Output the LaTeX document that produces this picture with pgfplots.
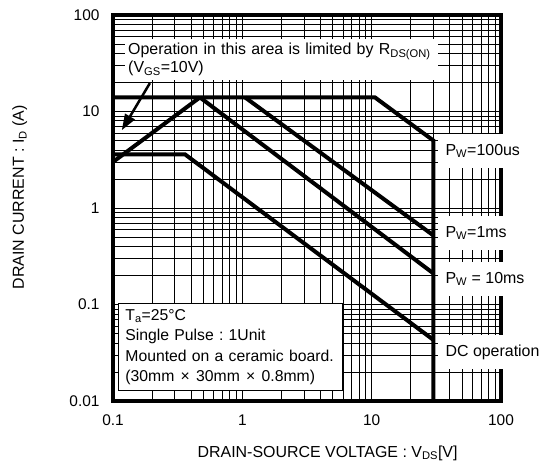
\documentclass[border=0pt]{standalone}
\usepackage{fontspec}
\setmainfont{Liberation Sans}
\usepackage{pgfplots}
\pgfplotsset{compat=1.18}
\usetikzlibrary{arrows.meta}
\frenchspacing
\newcommand\f{\fontsize{16}{18}\selectfont}
\newcommand\ft{\fontsize{15.5}{18}\selectfont}
\begin{document}
\frenchspacing
\begin{tikzpicture}[x=1bp,y=1bp]
\begin{axis}[
  at={(0,0)}, anchor=south west,
  scale only axis, width=388bp, height=386bp,
  xmode=log, ymode=log,
  xmin=0.1, xmax=100, ymin=0.01, ymax=100,
  xtick={0.1,1,10,100}, xticklabels={0.1,1,10,100},
  ytick={0.01,0.1,1,10,100}, yticklabels={0.01,0.1,1,10,100},
  /pgf/number format/assume math mode=true,
  grid=both,
  major grid style={black, line width=0.7bp},
  minor grid style={black, line width=0.7bp},
  major tick length=0pt, minor tick length=0pt,
  axis line style={line width=4bp},
  tick label style={font=\ft},
  xticklabel style={yshift=-10bp},
  yticklabel style={xshift=-10bp},
  xlabel={DRAIN-SOURCE VOLTAGE : V\textsubscript{DS}[V]},
  ylabel={DRAIN CURRENT : I\textsubscript{D} (A)},
  label style={font=\f},
  xlabel style={at={(axis description cs:0.553,-0.135)}, anchor=center},
  ylabel style={at={(axis description cs:-0.24,0.528)}, anchor=center},
  clip=false,
]
% R_DS(on) limit
\addplot[black, line width=4bp] coordinates {(0.1,3.0) (0.47,14)};
% 100 us
\addplot[black, line width=4bp] coordinates {(0.1,14) (10.6,14) (30,5) (30,0.01)};
% 1 ms
\addplot[black, line width=4bp] coordinates {(1.05,14) (30,0.52)};
% 10 ms
\addplot[black, line width=4bp] coordinates {(0.47,14) (30,0.21)};
% DC
\addplot[black, line width=4bp] coordinates {(0.1,3.6) (0.36,3.6) (30,0.043)};

\node[fill=white, anchor=north west, align=left, font=\f, inner xsep=3bp, inner ysep=4bp,
      text width=307bp]
  at (rel axis cs:0.031,0.938)
  {Operation in this area is limited by R\textsubscript{DS(ON)}\\(V\textsubscript{GS}=10V)};
\draw[-{Triangle[length=16bp,width=11bp]}, line width=2.5bp]
  (axis cs:0.193,19.7) -- (axis cs:0.117,6.4);

\tikzset{pw/.style={fill=white, anchor=west, font=\f, inner xsep=8bp, inner ysep=10bp, xshift=4bp}}
\node[pw] at (axis cs:30,3.9) {P\textsubscript{W}=100us};
\node[pw] at (axis cs:30,0.55) {P\textsubscript{W}=1ms};
\node[pw] at (axis cs:30,0.184) {P\textsubscript{W} = 10ms};
\node[pw] at (axis cs:30,0.0322) {DC operation};

\node[draw, line width=0.8bp, fill=white, anchor=north west, align=left,
      font=\fontsize{15.8}{20.5}\selectfont,
      inner xsep=7bp, inner ysep=6bp, text width=210bp]
  at (rel axis cs:0.013,0.254)
  {T\textsubscript{a}=25°C\\\mbox{Single Pulse : 1Unit}\\\mbox{Mounted on a ceramic board.}\\\mbox{(30mm\hspace{0.4em}{×}\hspace{0.4em}30mm\hspace{0.4em}{×}\hspace{0.4em}0.8mm)}};
\end{axis}
\pgfresetboundingbox
\path[use as bounding box] (-113bp,-65bp) rectangle (432bp,401bp);
\end{tikzpicture}
\end{document}
